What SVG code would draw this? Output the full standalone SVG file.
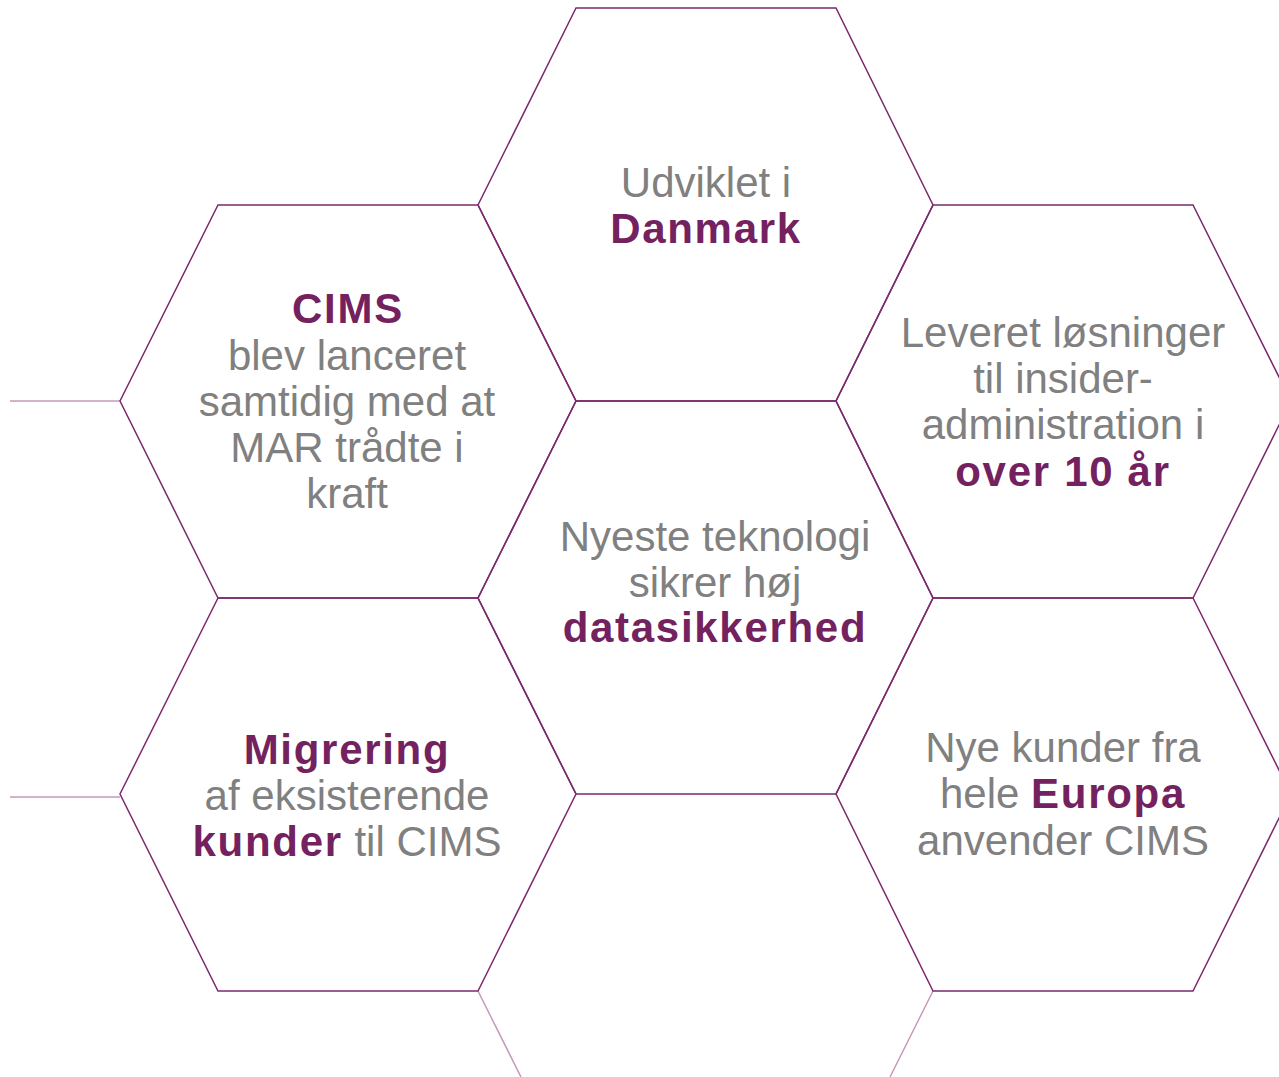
<svg xmlns="http://www.w3.org/2000/svg" width="1279" height="1077" viewBox="0 0 1279 1077">
<style>
.hex{fill:none;stroke:#7a2a6c;stroke-width:1.5;stroke-linejoin:miter}
.faint{fill:none;stroke:#c49abb;stroke-width:1.5}
text{font-family:"Liberation Sans",Arial,sans-serif;font-size:42px;text-anchor:middle}
.g{fill:#808080}
.b{fill:#74225f;font-weight:bold;letter-spacing:1.7px}
</style>
<rect width="1279" height="1077" fill="#ffffff"/>
<g id="connectors">
<line class="faint" x1="10" y1="401" x2="120" y2="401"/>
<line class="faint" x1="10" y1="797" x2="120" y2="797"/>
<line class="faint" x1="478" y1="991" x2="521" y2="1077"/>
<line class="faint" x1="933" y1="991" x2="890" y2="1077"/>
</g>
<g id="hex-top">
<polygon class="hex" points="576,8 836,8 933,205 836,401 576,401 478,205"/>
<text class="g" x="706" y="197">Udviklet i</text>
<text class="b" x="706" y="243">Danmark</text>
</g>
<g id="hex-left-top">
<polygon class="hex" points="218,205 478,205 576,401 478,598 218,598 120,401"/>
<text class="b" x="348" y="323">CIMS</text>
<text class="g" x="347" y="370">blev lanceret</text>
<text class="g" x="347" y="416">samtidig med at</text>
<text class="g" x="347" y="462">MAR trådte i</text>
<text class="g" x="347" y="508">kraft</text>
</g>
<g id="hex-center">
<polygon class="hex" points="576,401 836,401 933,598 836,794 576,794 478,598"/>
<text class="g" x="715" y="551">Nyeste teknologi</text>
<text class="g" x="715" y="597">sikrer høj</text>
<text class="b" x="715" y="642">datasikkerhed</text>
</g>
<g id="hex-right-top">
<polygon class="hex" points="933,205 1193,205 1291,401 1193,598 933,598 836,401"/>
<text class="g" x="1063" y="347">Leveret løsninger</text>
<text class="g" x="1063" y="393">til insider-</text>
<text class="g" x="1063" y="439">administration i</text>
<text class="b" x="1063" y="486">over 10 år</text>
</g>
<g id="hex-left-bottom">
<polygon class="hex" points="218,598 478,598 576,794 478,991 218,991 120,794"/>
<text class="b" x="347" y="764">Migrering</text>
<text class="g" x="347" y="810">af eksisterende</text>
<text x="347" y="856"><tspan class="b">kunder</tspan><tspan class="g"> til CIMS</tspan></text>
</g>
<g id="hex-right-bottom">
<polygon class="hex" points="933,598 1193,598 1291,794 1193,991 933,991 836,794"/>
<text class="g" x="1063" y="762">Nye kunder fra</text>
<text x="1063" y="808"><tspan class="g">hele </tspan><tspan class="b">Europa</tspan></text>
<text class="g" x="1063" y="855">anvender CIMS</text>
</g>
</svg>
